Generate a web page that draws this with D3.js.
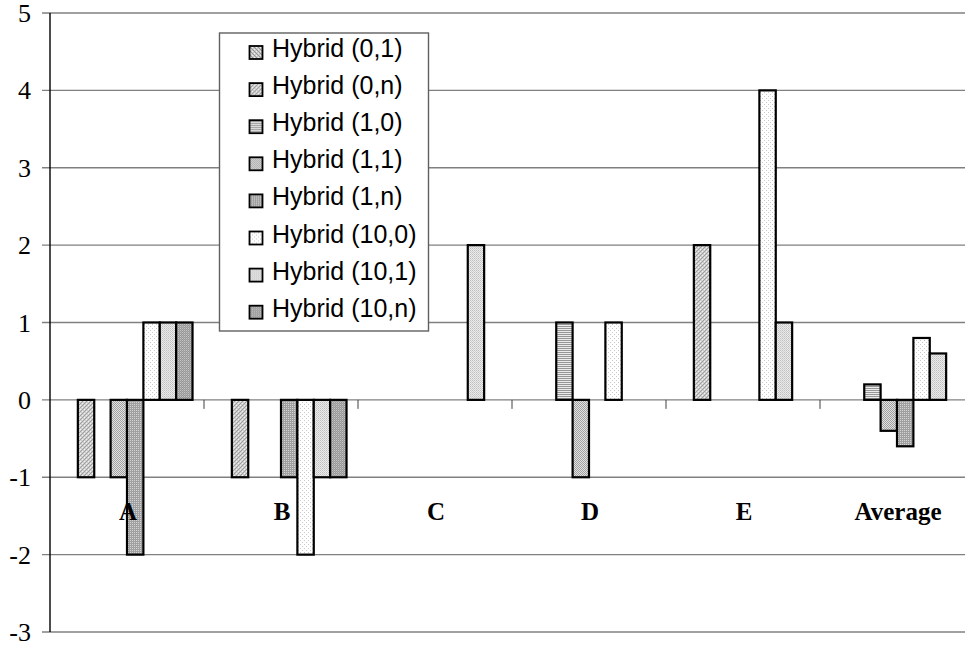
<!DOCTYPE html>
<html>
<head>
<meta charset="utf-8">
<script src="https://cdn.jsdelivr.net/npm/d3@7"></script>
<style>
  html, body { margin: 0; padding: 0; background: #fff; overflow: hidden; }
  svg { display: block; }
  .tick-label { font-family: "Liberation Serif", "Times New Roman", serif; font-size: 26px; fill: #000; }
  .cat-label { font-family: "Liberation Serif", "Times New Roman", serif; font-size: 25px; font-weight: bold; fill: #000; }
  .legend-text { font-family: "Liberation Sans", Arial, sans-serif; font-size: 25px; fill: #000; }
</style>
</head>
<body>
<svg id="chart"></svg>
<script>
// Data
const categories = ['A', 'B', 'C', 'D', 'E', 'Average'];
const seriesNames = ['Hybrid (0,1)', 'Hybrid (0,n)', 'Hybrid (1,0)', 'Hybrid (1,1)',
                     'Hybrid (1,n)', 'Hybrid (10,0)', 'Hybrid (10,1)', 'Hybrid (10,n)'];
const hybrid01  = [0, 0, 0, 0, 0, 0];
const hybrid0n  = [-1, -1, 0, 0, 2, 0];
const hybrid10  = [0, 0, 0, 1, 0, 0.2];
const hybrid11  = [-1, 0, 0, -1, 0, -0.4];
const hybrid1n  = [-2, -1, 0, 0, 0, -0.6];
const hybrid100 = [1, -2, 0, 1, 4, 0.8];
const hybrid101 = [1, -1, 2, 0, 1, 0.6];
const hybrid10n = [1, -1, 0, 0, 0, 0];
const seriesValues = [hybrid01, hybrid0n, hybrid10, hybrid11, hybrid1n, hybrid100, hybrid101, hybrid10n];
const yTicks = [5, 4, 3, 2, 1, 0, -1, -2, -3];

const width = 965, height = 648;
const margin = { top: 13, left: 50 };
const plotRight = 974;      // plot area runs a little past the picture edge
const plotBottom = 632;

const svg = d3.select('#chart').attr('width', width).attr('height', height);

// Fill patterns, one per series (small pixel tiles like the old office fills)
const defs = svg.append('defs');
const patternTiles = [
  { size: 4, bg: '#c8c8c8', px: [[0, 0, '#969696'], [1, 1, '#969696'], [2, 2, '#969696'], [3, 3, '#969696'], [2, 0, '#f0f0f0'], [0, 2, '#f0f0f0']] },
  { size: 4, bg: '#cecece', px: [[0, 3, '#9c9c9c'], [1, 2, '#9c9c9c'], [2, 1, '#9c9c9c'], [3, 0, '#9c9c9c'], [0, 1, '#f0f0f0'], [2, 3, '#f0f0f0']] },
  { size: 2, bg: '#ececec', px: [[0, 0, '#969696'], [1, 0, '#969696']] },
  { size: 2, bg: '#e2e2e2', px: [[0, 0, '#a0a0a0'], [1, 1, '#a0a0a0']] },
  { size: 2, bg: '#a0a0a0', px: [[0, 0, '#d4d4d4']] },
  { size: 4, bg: '#ffffff', px: [[0, 0, '#c8c8c8'], [2, 2, '#c8c8c8']] },
  { size: 2, bg: '#eaeaea', px: [[0, 0, '#c0c0c0'], [1, 1, '#d0d0d0']] },
  { size: 2, bg: '#989898', px: [[0, 0, '#c4c4c4'], [1, 1, '#acacac']] }
];
patternTiles.forEach((t, i) => {
  const p = defs.append('pattern')
    .attr('id', 'pat' + i)
    .attr('patternUnits', 'userSpaceOnUse')
    .attr('width', t.size)
    .attr('height', t.size);
  p.append('rect').attr('width', t.size).attr('height', t.size).attr('fill', t.bg);
  t.px.forEach(([x, y, c]) => {
    p.append('rect').attr('x', x).attr('y', y).attr('width', 1).attr('height', 1).attr('fill', c);
  });
});

// Scales
const yScale = d3.scaleLinear().domain([-3, 5]).range([plotBottom, margin.top]);
const xScale = d3.scaleBand().domain(categories).range([margin.left, plotRight]).paddingInner(0).paddingOuter(0);
const xInner = d3.scaleBand().domain(d3.range(seriesNames.length))
  .range([0, xScale.bandwidth()]).paddingInner(0).paddingOuter(0.7);

// Gridlines + y ticks
svg.append('g').selectAll('line')
  .data(yTicks)
  .join('line')
  .attr('x1', margin.left - 8)
  .attr('x2', plotRight)
  .attr('y1', d => yScale(d))
  .attr('y2', d => yScale(d))
  .attr('stroke', '#808080')
  .attr('stroke-width', 1.4);

svg.append('g').selectAll('text')
  .data(yTicks)
  .join('text')
  .attr('class', 'tick-label')
  .attr('x', 31)
  .attr('y', d => yScale(d))
  .attr('dy', '0.35em')
  .attr('text-anchor', 'end')
  .text(d => d);

// Category tick marks on the zero line
svg.append('g').selectAll('line')
  .data(categories.slice(1).concat(['end']))
  .join('line')
  .attr('x1', (d, i) => margin.left + (i + 1) * xScale.step())
  .attr('x2', (d, i) => margin.left + (i + 1) * xScale.step())
  .attr('y1', yScale(0))
  .attr('y2', yScale(0) + 9)
  .attr('stroke', '#404040')
  .attr('stroke-width', 1);

// Bars
const barData = [];
seriesValues.forEach((vals, s) => {
  vals.forEach((v, c) => {
    if (v !== 0) barData.push({ s, cat: categories[c], v });
  });
});

svg.append('g').selectAll('rect')
  .data(barData)
  .join('rect')
  .attr('x', d => xScale(d.cat) + xInner(d.s))
  .attr('width', xInner.bandwidth())
  .attr('y', d => yScale(Math.max(0, d.v)))
  .attr('height', d => Math.abs(yScale(d.v) - yScale(0)))
  .attr('fill', d => `url(#pat${d.s})`)
  .attr('stroke', '#000')
  .attr('stroke-width', 2.2);

// Y axis line
svg.append('line')
  .attr('x1', margin.left).attr('x2', margin.left)
  .attr('y1', margin.top).attr('y2', plotBottom)
  .attr('stroke', '#000')
  .attr('stroke-width', 1.4);

// Category labels
svg.append('g').selectAll('text')
  .data(categories)
  .join('text')
  .attr('class', 'cat-label')
  .attr('x', d => xScale(d) + xScale.bandwidth() / 2 + 1)
  .attr('y', 520)
  .attr('text-anchor', 'middle')
  .text(d => d);

// Legend
const legend = svg.append('g');
legend.append('rect')
  .attr('x', 219.5).attr('y', 33)
  .attr('width', 209).attr('height', 298)
  .attr('fill', '#fff')
  .attr('stroke', '#606060')
  .attr('stroke-width', 1.4);

const rowStep = 37.1;
const rows = legend.selectAll('g.row')
  .data(seriesNames)
  .join('g')
  .attr('class', 'row')
  .attr('transform', (d, i) => `translate(0, ${57 + i * rowStep})`);

rows.append('rect')
  .attr('x', 249.5).attr('y', -11)
  .attr('width', 13).attr('height', 13)
  .attr('fill', (d, i) => `url(#pat${i})`)
  .attr('stroke', '#000')
  .attr('stroke-width', 1.8);

rows.append('text')
  .attr('class', 'legend-text')
  .attr('x', 272)
  .attr('y', 0)
  .text(d => d);
</script>
</body>
</html>
